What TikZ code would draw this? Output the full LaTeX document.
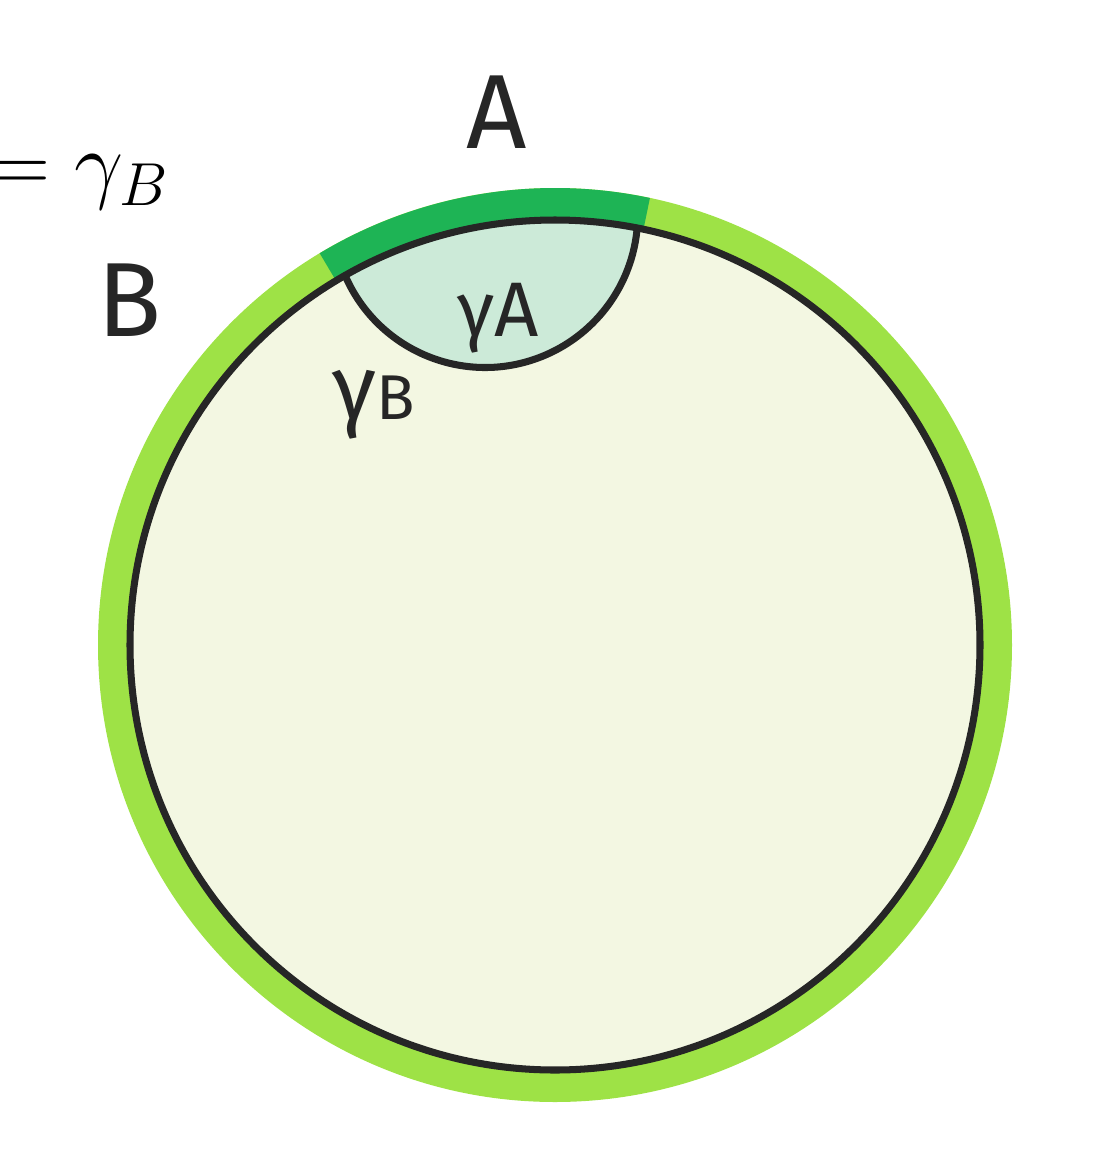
\documentclass[tikz,border=0pt]{standalone}
\usepackage{fontspec}
\newfontfamily\handfont{Fira Sans}
\usetikzlibrary{calc}
\definecolor{bandLight}{RGB}{158,226,70}
\definecolor{bandDark}{RGB}{30,180,85}
\definecolor{regionB}{RGB}{243,247,226}
\definecolor{regionA}{RGB}{204,234,216}
\tikzset{
  bandL/.style={draw=bandLight, line width=0.29cm},
  bandD/.style={draw=bandDark, line width=0.29cm},
  rim/.style={draw=black!85, line width=2pt},
  hand/.style={font=\handfont\fontsize{30}{30}\selectfont, text=black!85},
  handsmall/.style={font=\handfont\fontsize{22}{22}\selectfont, text=black!85},
}

\begin{document}
\begin{tikzpicture}
    \useasboundingbox (0,0) rectangle (10.93,-11.63);
    \coordinate (O) at (5.55,-6.45);
    %% regions
    \fill[regionB] (O) circle[radius=4.25];
    \fill[regionA] ($(O)+(78.9:4.25)$) arc[start angle=78.9, end angle=119.6, radius=4.25]
      arc[start angle=-156.6, end angle=-5.1, radius=1.526] -- cycle;
    %% boundary bands
    \draw[bandL] (O) circle[radius=4.425];
    \draw[bandD] ($(O)+(78:4.425)$) arc[start angle=78, end angle=121, radius=4.425];
    %% curves
    \draw[rim] (O) circle[radius=4.25];
    \draw[rim] ($(O)+(119.6:4.25)$) arc[start angle=-156.6, end angle=-5.1, radius=1.526];
    %% labels
    \node[hand] (lblA) at (4.97,-1.12) {A};
    \node[hand] (lblB) at (1.3,-3.0) {B};
    \node[handsmall] (lblgA) at (4.98,-3.18) {γA};
    \node[font=\handfont\fontsize{26}{26}\selectfont, text=black!85] (lblgB) at (3.74,-4.05) {γ{\fontsize{18}{18}\selectfont B}};
    \node[anchor=base west, inner sep=0pt, font=\fontsize{23}{23}\selectfont] (eqB) at (-0.13,-1.92) {$=\gamma_B$};
\end{tikzpicture}
\end{document}
